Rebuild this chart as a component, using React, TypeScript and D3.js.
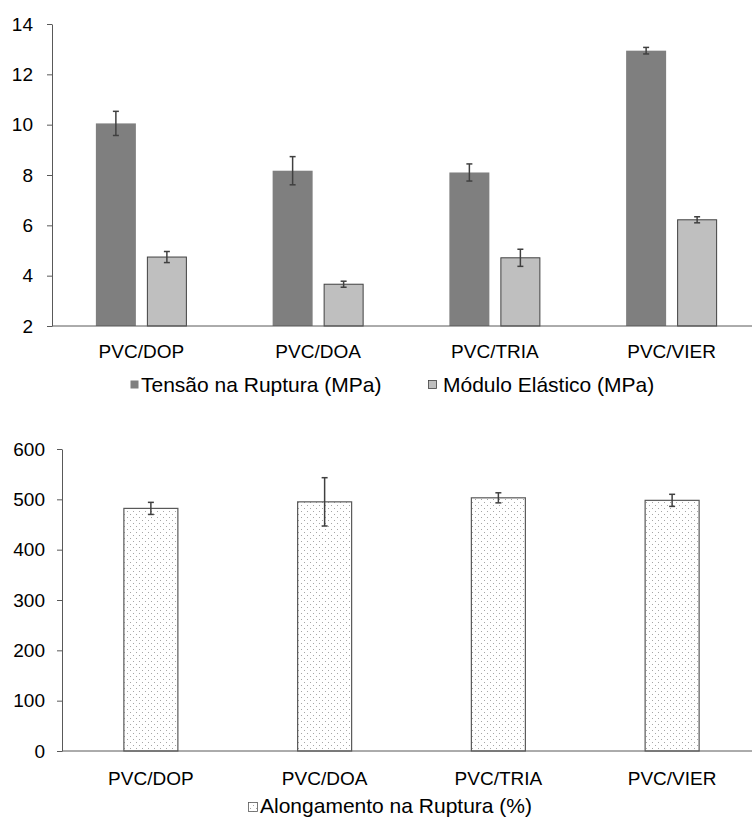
import React, { useRef, useEffect } from 'react';
import * as d3 from 'd3';

const categories = ['PVC/DOP', 'PVC/DOA', 'PVC/TRIA', 'PVC/VIER'];

// top chart (MPa)
const tensao = [10.05, 8.17, 8.1, 12.94];
const tensaoErr = [0.48, 0.56, 0.34, 0.13];
const modulo = [4.74, 3.66, 4.71, 6.22];
const moduloErr = [0.22, 0.12, 0.34, 0.12];
const topTicks = [2, 4, 6, 8, 10, 12, 14];
const topLegend = ['Tensão na Ruptura (MPa)', 'Módulo Elástico (MPa)'];

// bottom chart (%)
const alongamento = [482, 495, 503, 498];
const alongamentoErr = [12, 48, 10, 12];
const bottomTicks = [0, 100, 200, 300, 400, 500, 600];
const bottomLegend = 'Alongamento na Ruptura (%)';

const W = 752;
const H = 821;
const FONT = '"Liberation Sans", Arial, sans-serif';
const AXIS = '#595959';
const ERR = '#404040';

export default function App() {
    const svgRef = useRef<SVGSVGElement>(null);

    useEffect(() => {
        const svg = d3.select(svgRef.current);
        svg.selectAll('*').remove();

        // dotted fill for the bottom bars
        const pat = svg.append('defs').append('pattern')
            .attr('id', 'dots')
            .attr('patternUnits', 'userSpaceOnUse')
            .attr('width', 6)
            .attr('height', 6);
        pat.append('rect').attr('width', 6).attr('height', 6).attr('fill', '#fff');
        pat.append('rect').attr('x', 1).attr('y', 1).attr('width', 1).attr('height', 1).attr('fill', '#a6a6a6');
        pat.append('rect').attr('x', 4).attr('y', 4).attr('width', 1).attr('height', 1).attr('fill', '#a6a6a6');

        const drawErr = (g: any, cx: number, y0: number, y1: number) => {
            g.append('line').attr('x1', cx).attr('x2', cx).attr('y1', y0).attr('y2', y1)
                .attr('stroke', ERR).attr('stroke-width', 1.5);
            [y0, y1].forEach(y => {
                g.append('line').attr('x1', cx - 3).attr('x2', cx + 3).attr('y1', y).attr('y2', y)
                    .attr('stroke', ERR).attr('stroke-width', 1.5);
            });
        };

        // ---------- top chart ----------
        const x0 = d3.scaleBand().domain(categories).range([53, 760]);
        const x1 = d3.scaleBand().domain(['t', 'm']).range([-45.5, 45.5]).paddingInner(11 / 51);
        const y = d3.scaleLinear().domain([2, 14]).range([326, 24]);

        const top = svg.append('g');
        const yAxis = top.append('g')
            .attr('transform', 'translate(52,0)')
            .call(d3.axisLeft(y).tickValues(topTicks).tickSize(5).tickSizeOuter(0).tickPadding(14));
        yAxis.select('.domain').attr('stroke', AXIS);
        yAxis.selectAll('.tick line').attr('stroke', AXIS);
        yAxis.selectAll('text').attr('font-family', FONT).attr('font-size', 19).attr('fill', '#000');

        categories.forEach((c, i) => {
            const cx = (x0(c) as number) + x0.bandwidth() / 2;
            const xt = cx + (x1('t') as number);
            const xm = cx + (x1('m') as number);
            top.append('rect')
                .attr('x', xt).attr('y', y(tensao[i]))
                .attr('width', x1.bandwidth()).attr('height', y(2) - y(tensao[i]))
                .attr('fill', '#7f7f7f');
            top.append('rect')
                .attr('x', xm + 0.5).attr('y', y(modulo[i]))
                .attr('width', x1.bandwidth() - 1).attr('height', y(2) - y(modulo[i]))
                .attr('fill', '#bfbfbf').attr('stroke', '#404040').attr('stroke-width', 1);
            drawErr(top, xt + x1.bandwidth() / 2, y(tensao[i] + tensaoErr[i]), y(tensao[i] - tensaoErr[i]));
            drawErr(top, xm + x1.bandwidth() / 2, y(modulo[i] + moduloErr[i]), y(modulo[i] - moduloErr[i]));
            top.append('text')
                .attr('x', cx).attr('y', 358)
                .attr('text-anchor', 'middle')
                .attr('font-family', FONT).attr('font-size', 19)
                .text(c);
        });
        top.append('line').attr('x1', 52).attr('x2', W).attr('y1', y(2)).attr('y2', y(2))
            .attr('stroke', AXIS).attr('stroke-width', 1);

        // legend
        const legTop = [
            { x: 130, tx: 141, fill: '#7f7f7f', stroke: 'none', label: topLegend[0] },
            { x: 428, tx: 443, fill: '#bfbfbf', stroke: '#404040', label: topLegend[1] },
        ];
        legTop.forEach(l => {
            top.append('rect').attr('x', l.x + 0.5).attr('y', 380.5).attr('width', 8).attr('height', 8)
                .attr('fill', l.fill).attr('stroke', l.stroke).attr('stroke-width', 0.8);
            top.append('text').attr('x', l.tx).attr('y', 391.5)
                .attr('font-family', FONT).attr('font-size', 21).text(l.label);
        });

        // ---------- bottom chart ----------
        const xb = d3.scaleBand().domain(categories).range([64, 759]);
        const yb = d3.scaleLinear().domain([0, 600]).range([751, 449]);
        const bw = 54;

        const bot = svg.append('g');
        const ybAxis = bot.append('g')
            .attr('transform', 'translate(62,0)')
            .call(d3.axisLeft(yb).tickValues(bottomTicks).tickSize(5).tickSizeOuter(0).tickPadding(12));
        ybAxis.select('.domain').attr('stroke', AXIS);
        ybAxis.selectAll('.tick line').attr('stroke', AXIS);
        ybAxis.selectAll('text').attr('font-family', FONT).attr('font-size', 19).attr('fill', '#000');

        categories.forEach((c, i) => {
            const cx = (xb(c) as number) + xb.bandwidth() / 2;
            bot.append('rect')
                .attr('x', cx - bw / 2).attr('y', yb(alongamento[i]))
                .attr('width', bw).attr('height', yb(0) - yb(alongamento[i]))
                .attr('fill', 'url(#dots)').attr('stroke', '#595959').attr('stroke-width', 1.2);
            drawErr(bot, cx, yb(alongamento[i] + alongamentoErr[i]), yb(alongamento[i] - alongamentoErr[i]));
            bot.append('text')
                .attr('x', cx).attr('y', 785)
                .attr('text-anchor', 'middle')
                .attr('font-family', FONT).attr('font-size', 19)
                .text(c);
        });
        bot.append('line').attr('x1', 62).attr('x2', W).attr('y1', yb(0)).attr('y2', yb(0))
            .attr('stroke', AXIS).attr('stroke-width', 1);

        bot.append('rect').attr('x', 248.5).attr('y', 802.5).attr('width', 9).attr('height', 9)
            .attr('fill', 'url(#dots)').attr('stroke', '#595959').attr('stroke-width', 0.8);
        bot.append('text').attr('x', 260).attr('y', 813)
            .attr('font-family', FONT).attr('font-size', 21).text(bottomLegend);
    }, []);

    return (
        <svg ref={svgRef} width={W} height={H}
            style={{ position: 'absolute', left: 0, top: 0, background: '#fff' }} />
    );
}
